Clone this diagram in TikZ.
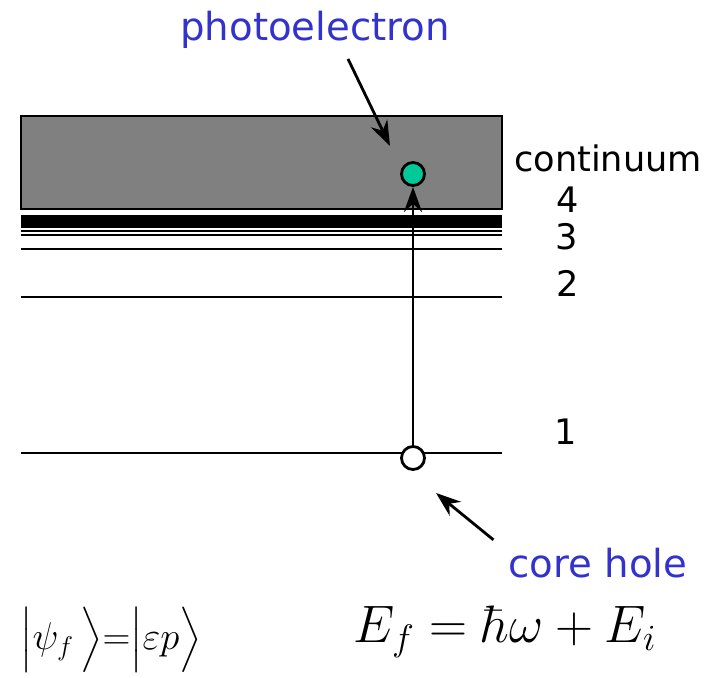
\RequirePackage{fix-cm}
\documentclass[tikz,border=0pt]{standalone}
\usepackage{amsmath}
\usepackage{fontspec}
\newfontfamily\labelfont{DejaVu Sans}
\usetikzlibrary{arrows.meta}
\definecolor{labelblue}{RGB}{51,51,204}
\definecolor{contgray}{RGB}{128,128,128}
\definecolor{elgreen}{RGB}{0,200,150}

\begin{document}
\begin{tikzpicture}[x=0.02cm,y=-0.02cm,
  tip/.style={-{Stealth[length=5mm,width=3.6mm,inset=1.6mm]}},
  lvl/.style={line width=1.6pt},
  lbl/.style={font=\labelfont\fontsize{20}{24}\selectfont},
  blbl/.style={font=\labelfont\fontsize{22}{26}\selectfont,text=labelblue},
  eqn/.style={font=\fontsize{30}{36}\selectfont,inner sep=0pt},
  dot/.style={circle,draw,line width=1.6pt,minimum size=0.46cm,inner sep=0pt}]
\useasboundingbox (0,0) rectangle (717,678);
% continuum and bound levels
\draw[lvl,fill=contgray] (21,116) rectangle (502,209);
\fill (21,215) rectangle (502,228);
\foreach \y in {231,235,249,297,453} \draw[lvl] (21,\y) -- (502,\y);
\node[dot,fill=elgreen] (ele) at (413,174) {};
\node[dot,fill=white] (hole) at (413,458) {};
\draw[tip,lvl] (hole) -- (ele);
% labels
\node[blbl] (photo) at (315,30) {photoelectron};
\node[blbl] (core) at (598,563) {core hole};
\coordinate (etip) at (390,146);
\coordinate (htip) at (436,493);
\draw[tip,lvl] ([shift={(33,4)}]photo.south) -- (etip);
\draw[tip,lvl] ([shift={(-9,-2)}]core.north west) -- (htip);
\node[lbl] (cont) at (608,158) {continuum};
\node[lbl] (n4) at (568,200) {4};
\node[lbl] (n3) at (567,237) {3};
\node[lbl] (n2) at (568,283) {2};
\node[lbl] (n1) at (566,432) {1};
% equations
\node[eqn,font=\fontsize{22}{26}\selectfont] (psi) at (111,640)
  {$\Big|\psi_f\,\Big\rangle{=}\Big|\varepsilon p\Big\rangle$};
\node[eqn] (en) at (505,632) {$E_f=\hbar\omega+E_i$};
\end{tikzpicture}
\end{document}
